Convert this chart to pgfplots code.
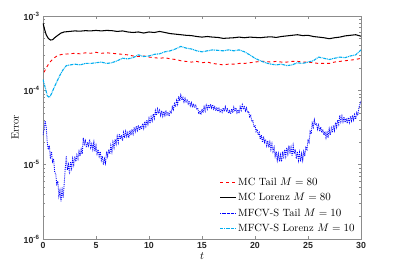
\documentclass[border=0pt]{standalone}
\usepackage{fontspec}
\usepackage{pgfplots}
\pgfplotsset{compat=1.18}
\pgfplotsset{legend image code/.code={\draw[mark repeat=2,mark phase=2,#1] plot coordinates {(0cm,0cm) (0.27cm,0cm) (0.54cm,0cm)};}}
\newfontfamily\tickfont{Liberation Sans}
\definecolor{axgray}{gray}{0.55}
\begin{document}
\begin{tikzpicture}
\begin{axis}[
  name=ax,
  scale only axis,
  width=318pt, height=223pt,
  xmin=0, xmax=30,
  ymode=log, ymin=1e-6, ymax=1e-3,
  xtick={0,5,10,15,20,25,30},
  ytick={1e-6,1e-5,1e-4,1e-3},
  yticklabels={\textbf{10}\textsuperscript{\textbf{-6}},\textbf{10}\textsuperscript{\textbf{-5}},\textbf{10}\textsuperscript{\textbf{-4}},\textbf{10}\textsuperscript{\textbf{-3}}},
  xticklabels={\textbf{0},\textbf{5},\textbf{10},\textbf{15},\textbf{20},\textbf{25},\textbf{30}},
  ticklabel style={font=\tickfont\fontsize{8.8}{10}\selectfont, text=black!85},
  tick align=inside,
  major tick length=3pt, minor tick length=1.6pt,
  axis line style={axgray},
  every tick/.style={axgray},
  xlabel={$t$}, ylabel={Error},
  label style={font=\fontsize{10.5}{12}\selectfont},
  xlabel style={yshift=3pt},
  ylabel style={yshift=-2pt},
  legend style={at={(0.99,0.012)}, anchor=south east, draw=none, fill=white, text=black, font=\fontsize{10.5}{12}\selectfont, row sep=2.4pt, inner sep=1pt},
  legend cell align=left,
]
\addplot[red, dashed, line width=0.9pt] table {
0.1 1.75e-4
0.3 2.0e-4
0.6 2.35e-4
1.0 2.7e-4
1.4 2.95e-4
1.8 3.05e-4
2.5 3.1e-4
3 3.15e-4
3.5 3.1e-4
4 3.2e-4
4.5 3.15e-4
5 3.25e-4
5.5 3.15e-4
6 3.2e-4
6.5 3.15e-4
7 3.1e-4
7.5 3.05e-4
8 3.0e-4
8.5 2.9e-4
9 2.85e-4
9.5 2.9e-4
10 2.8e-4
10.5 2.75e-4
11 2.7e-4
11.5 2.75e-4
12 2.65e-4
12.5 2.6e-4
13 2.5e-4
13.5 2.45e-4
14 2.4e-4
14.5 2.45e-4
15 2.35e-4
15.5 2.4e-4
16 2.3e-4
16.5 2.25e-4
17 2.2e-4
17.5 2.25e-4
18 2.25e-4
18.5 2.3e-4
19 2.3e-4
19.5 2.35e-4
20 2.4e-4
20.5 2.45e-4
21 2.45e-4
21.5 2.4e-4
22 2.45e-4
22.5 2.4e-4
23 2.4e-4
23.5 2.45e-4
24 2.45e-4
24.5 2.4e-4
25 2.4e-4
25.5 2.35e-4
26 2.3e-4
26.5 2.3e-4
27 2.3e-4
27.5 2.4e-4
28 2.45e-4
28.5 2.5e-4
29 2.55e-4
29.5 2.6e-4
30 2.7e-4
};
\addlegendentry{MC Tail $M=80$}
\addplot[black, solid, line width=1.05pt] table {
0 8.0e-4
0.15 6.6e-4
0.3 5.6e-4
0.5 5.0e-4
0.7 4.75e-4
0.9 4.8e-4
1.1 5.1e-4
1.4 5.5e-4
1.7 5.9e-4
2.0 6.1e-4
2.5 6.2e-4
3.0 6.3e-4
3.5 6.25e-4
4.0 6.35e-4
4.5 6.3e-4
5.0 6.4e-4
5.5 6.3e-4
6.0 6.4e-4
6.5 6.35e-4
7.0 6.2e-4
7.5 6.3e-4
8.0 6.1e-4
8.5 6.0e-4
9.0 6.1e-4
9.5 5.9e-4
10 6.1e-4
10.5 6.0e-4
11 6.2e-4
11.5 6.0e-4
12 5.8e-4
12.5 5.7e-4
13 5.6e-4
13.5 5.5e-4
14 5.45e-4
14.5 5.3e-4
15 5.2e-4
15.5 5.3e-4
16 5.2e-4
16.5 5.15e-4
17 5.0e-4
17.5 5.05e-4
18 5.1e-4
18.5 5.2e-4
19 5.1e-4
19.5 5.2e-4
20 5.15e-4
20.5 5.1e-4
21 5.2e-4
21.5 5.25e-4
22 5.15e-4
22.5 5.3e-4
23 5.4e-4
23.5 5.5e-4
24 5.6e-4
24.5 5.45e-4
25 5.5e-4
25.5 5.3e-4
26 5.2e-4
26.5 5.1e-4
27 4.95e-4
27.5 5.1e-4
28 5.2e-4
28.5 5.4e-4
29 5.5e-4
29.5 5.6e-4
30 5.35e-4
};
\addlegendentry{MC Lorenz $M=80$}
\addplot[blue, densely dotted, line width=0.9pt, legend image post style={dash pattern=on 0.8pt off 0.5pt}] table {
0.0 2.5e-5
0.1 3.0e-5
0.2 3.9e-5
0.3 3.2e-5
0.4 2.0e-5
0.5 1.6e-5
0.6 1.8e-5
0.7 1.2e-5
0.8 1.5e-5
0.9 1.1e-5
1.0 1.2e-5
1.1 0.8e-5
1.2 0.75e-5
1.3 0.55e-5
1.4 0.6e-5
1.5 0.38e-5
1.6 0.45e-5
1.7 0.32e-5
1.8 0.5e-5
1.9 0.36e-5
2.0 0.55e-5
2.1 0.9e-5
2.2 1.3e-5
2.3 0.85e-5
2.4 1.0e-5
2.5 0.75e-5
2.6 1.1e-5
2.7 0.9e-5
2.8 1.2e-5
2.9 1.0e-5
3.0 1.3e-5
3.1 1.1e-5
3.2 1.35e-5
3.3 1.2e-5
3.4 1.5e-5
3.5 1.3e-5
3.6 1.6e-5
3.7 1.4e-5
3.8 2.3e-5
3.9 1.9e-5
4.0 2.1e-5
4.1 1.7e-5
4.2 2.0e-5
4.3 1.8e-5
4.4 2.2e-5
4.5 1.7e-5
4.6 1.9e-5
4.7 1.6e-5
4.8 2.0e-5
4.9 1.5e-5
5.0 1.8e-5
5.1 1.4e-5
5.2 1.6e-5
5.3 1.3e-5
5.4 1.5e-5
5.5 1.15e-5
5.6 1.3e-5
5.7 1.0e-5
5.8 1.2e-5
5.9 1.05e-5
6.0 1.5e-5
6.1 1.3e-5
6.2 1.6e-5
6.3 1.4e-5
6.4 1.8e-5
6.5 1.5e-5
6.6 2.0e-5
6.7 1.7e-5
6.8 2.2e-5
6.9 1.9e-5
7.0 2.4e-5
7.1 2.0e-5
7.2 2.6e-5
7.3 2.2e-5
7.4 2.5e-5
7.5 2.1e-5
7.6 2.7e-5
7.7 2.3e-5
7.8 2.8e-5
7.9 2.4e-5
8.0 2.7e-5
8.1 2.3e-5
8.2 2.9e-5
8.3 2.5e-5
8.4 3.0e-5
8.5 2.6e-5
8.6 3.2e-5
8.7 2.8e-5
8.8 3.3e-5
8.9 2.9e-5
9.0 3.4e-5
9.1 2.9e-5
9.2 3.3e-5
9.3 3.0e-5
9.4 3.6e-5
9.5 3.1e-5
9.6 3.8e-5
9.7 3.3e-5
9.8 4.0e-5
9.9 3.5e-5
10.0 4.2e-5
10.1 3.6e-5
10.2 4.4e-5
10.3 3.9e-5
10.4 4.8e-5
10.5 4.2e-5
10.6 5.3e-5
10.7 4.6e-5
10.8 5.6e-5
10.9 4.9e-5
11.0 5.4e-5
11.1 4.6e-5
11.2 5.3e-5
11.3 4.5e-5
11.4 5.2e-5
11.5 4.6e-5
11.6 5.4e-5
11.7 4.7e-5
11.8 5.1e-5
11.9 4.5e-5
12.0 5.2e-5
12.1 5.0e-5
12.2 6.0e-5
12.3 5.5e-5
12.4 6.6e-5
12.5 6.0e-5
12.6 7.3e-5
12.7 6.5e-5
12.8 8.3e-5
12.9 7.2e-5
13.0 8.6e-5
13.1 7.4e-5
13.2 8.0e-5
13.3 7.0e-5
13.4 7.8e-5
13.5 6.8e-5
13.6 7.6e-5
13.7 6.6e-5
13.8 7.2e-5
13.9 6.2e-5
14.0 6.8e-5
14.1 5.9e-5
14.2 6.6e-5
14.3 5.8e-5
14.4 6.5e-5
14.5 5.5e-5
14.6 5.8e-5
14.7 4.8e-5
14.8 5.3e-5
14.9 4.7e-5
15.0 5.6e-5
15.1 5.0e-5
15.2 6.0e-5
15.3 5.3e-5
15.4 6.3e-5
15.5 5.6e-5
15.6 6.4e-5
15.7 5.7e-5
15.8 6.5e-5
15.9 5.8e-5
16.0 6.4e-5
16.1 5.6e-5
16.2 6.0e-5
16.3 5.3e-5
16.4 5.9e-5
16.5 5.2e-5
16.6 5.7e-5
16.7 5.0e-5
16.8 5.6e-5
16.9 5.1e-5
17.0 5.8e-5
17.1 5.2e-5
17.2 6.0e-5
17.3 5.3e-5
17.4 5.6e-5
17.5 4.9e-5
17.6 5.3e-5
17.7 4.8e-5
17.8 5.6e-5
17.9 5.0e-5
18.0 5.9e-5
18.1 5.2e-5
18.2 5.8e-5
18.3 5.0e-5
18.4 5.5e-5
18.5 4.9e-5
18.6 6.0e-5
18.7 5.4e-5
18.8 6.4e-5
18.9 5.7e-5
19.0 6.0e-5
19.1 5.3e-5
19.2 5.8e-5
19.3 5.0e-5
19.4 5.2e-5
19.5 4.4e-5
19.6 4.6e-5
19.7 3.8e-5
19.8 3.9e-5
19.9 3.2e-5
20.0 3.4e-5
20.1 2.8e-5
20.2 3.0e-5
20.3 2.5e-5
20.4 2.7e-5
20.5 2.2e-5
20.6 2.5e-5
20.7 2.0e-5
20.8 2.4e-5
20.9 2.0e-5
21.0 2.2e-5
21.1 1.8e-5
21.2 2.1e-5
21.3 1.7e-5
21.4 2.0e-5
21.5 1.6e-5
21.6 1.9e-5
21.7 1.5e-5
21.8 1.7e-5
21.9 1.3e-5
22.0 1.5e-5
22.1 1.15e-5
22.2 1.4e-5
22.3 1.1e-5
22.4 1.35e-5
22.5 1.1e-5
22.6 1.5e-5
22.7 1.2e-5
22.8 1.6e-5
22.9 1.3e-5
23.0 1.7e-5
23.1 1.4e-5
23.2 1.8e-5
23.3 1.4e-5
23.4 1.7e-5
23.5 1.3e-5
23.6 1.8e-5
23.7 1.4e-5
23.8 1.6e-5
23.9 1.2e-5
24.0 1.5e-5
24.1 1.15e-5
24.2 1.45e-5
24.3 1.1e-5
24.4 1.4e-5
24.5 1.15e-5
24.6 1.5e-5
24.7 1.3e-5
24.8 1.7e-5
24.9 1.6e-5
25.0 2.2e-5
25.1 2.0e-5
25.2 2.8e-5
25.3 2.6e-5
25.4 3.6e-5
25.5 3.2e-5
25.6 4.0e-5
25.7 3.4e-5
25.8 3.6e-5
25.9 3.0e-5
26.0 3.4e-5
26.1 2.8e-5
26.2 3.2e-5
26.3 2.7e-5
26.4 3.0e-5
26.5 2.5e-5
26.6 2.8e-5
26.7 2.3e-5
26.8 2.7e-5
26.9 2.3e-5
27.0 3.0e-5
27.1 2.5e-5
27.2 3.1e-5
27.3 2.7e-5
27.4 3.4e-5
27.5 2.9e-5
27.6 3.7e-5
27.7 3.2e-5
27.8 4.0e-5
27.9 3.5e-5
28.0 4.6e-5
28.1 3.8e-5
28.2 4.5e-5
28.3 3.8e-5
28.4 4.4e-5
28.5 3.7e-5
28.6 4.2e-5
28.7 3.6e-5
28.8 4.3e-5
28.9 3.7e-5
29.0 4.5e-5
29.1 3.9e-5
29.2 4.6e-5
29.3 4.0e-5
29.4 4.7e-5
29.5 4.1e-5
29.6 5.0e-5
29.7 4.6e-5
29.8 5.8e-5
29.9 6.5e-5
30.0 7.2e-5
};
\addlegendentry{MFCV-S Tail $M=10$}
\addplot[cyan, dash pattern=on 3pt off 0.8pt on 0.8pt off 0.8pt, line width=1.1pt] table {
0 1.4e-4
0.2 1.1e-4
0.4 8.5e-5
0.6 8.0e-5
0.8 9.0e-5
1.0 1.05e-4
1.3 1.3e-4
1.6 1.6e-4
1.9 1.9e-4
2.2 2.15e-4
2.6 2.2e-4
3.0 2.25e-4
3.5 2.2e-4
4.0 2.3e-4
4.5 2.3e-4
5 2.35e-4
5.5 2.4e-4
6 2.3e-4
6.5 2.35e-4
7 2.5e-4
7.5 2.7e-4
8 2.65e-4
8.5 2.75e-4
9 3.0e-4
9.5 2.85e-4
10 2.9e-4
10.5 3.05e-4
11 3.1e-4
11.5 3.3e-4
12 3.4e-4
12.5 3.6e-4
13 3.9e-4
13.5 3.7e-4
14 3.6e-4
14.5 3.4e-4
15 3.3e-4
15.5 3.4e-4
16 3.5e-4
16.5 3.45e-4
17 3.4e-4
17.5 3.5e-4
18 3.4e-4
18.5 3.5e-4
19 3.3e-4
19.5 3.0e-4
20 2.7e-4
20.5 2.5e-4
21 2.35e-4
21.5 2.25e-4
22 2.2e-4
22.5 2.25e-4
23 2.15e-4
23.5 2.2e-4
24 2.35e-4
24.5 2.3e-4
25 2.4e-4
25.5 2.5e-4
26 2.8e-4
26.5 2.7e-4
27 2.6e-4
27.5 2.7e-4
28 2.8e-4
28.5 2.75e-4
29 2.9e-4
29.5 3.0e-4
30 3.5e-4
};
\addlegendentry{MFCV-S Lorenz $M=10$}
\end{axis}
\pgfresetboundingbox
\path[use as bounding box] ([xshift=-43pt,yshift=-34pt]ax.south west) rectangle ([xshift=54pt,yshift=16pt]ax.north east);
\end{tikzpicture}
\end{document}
